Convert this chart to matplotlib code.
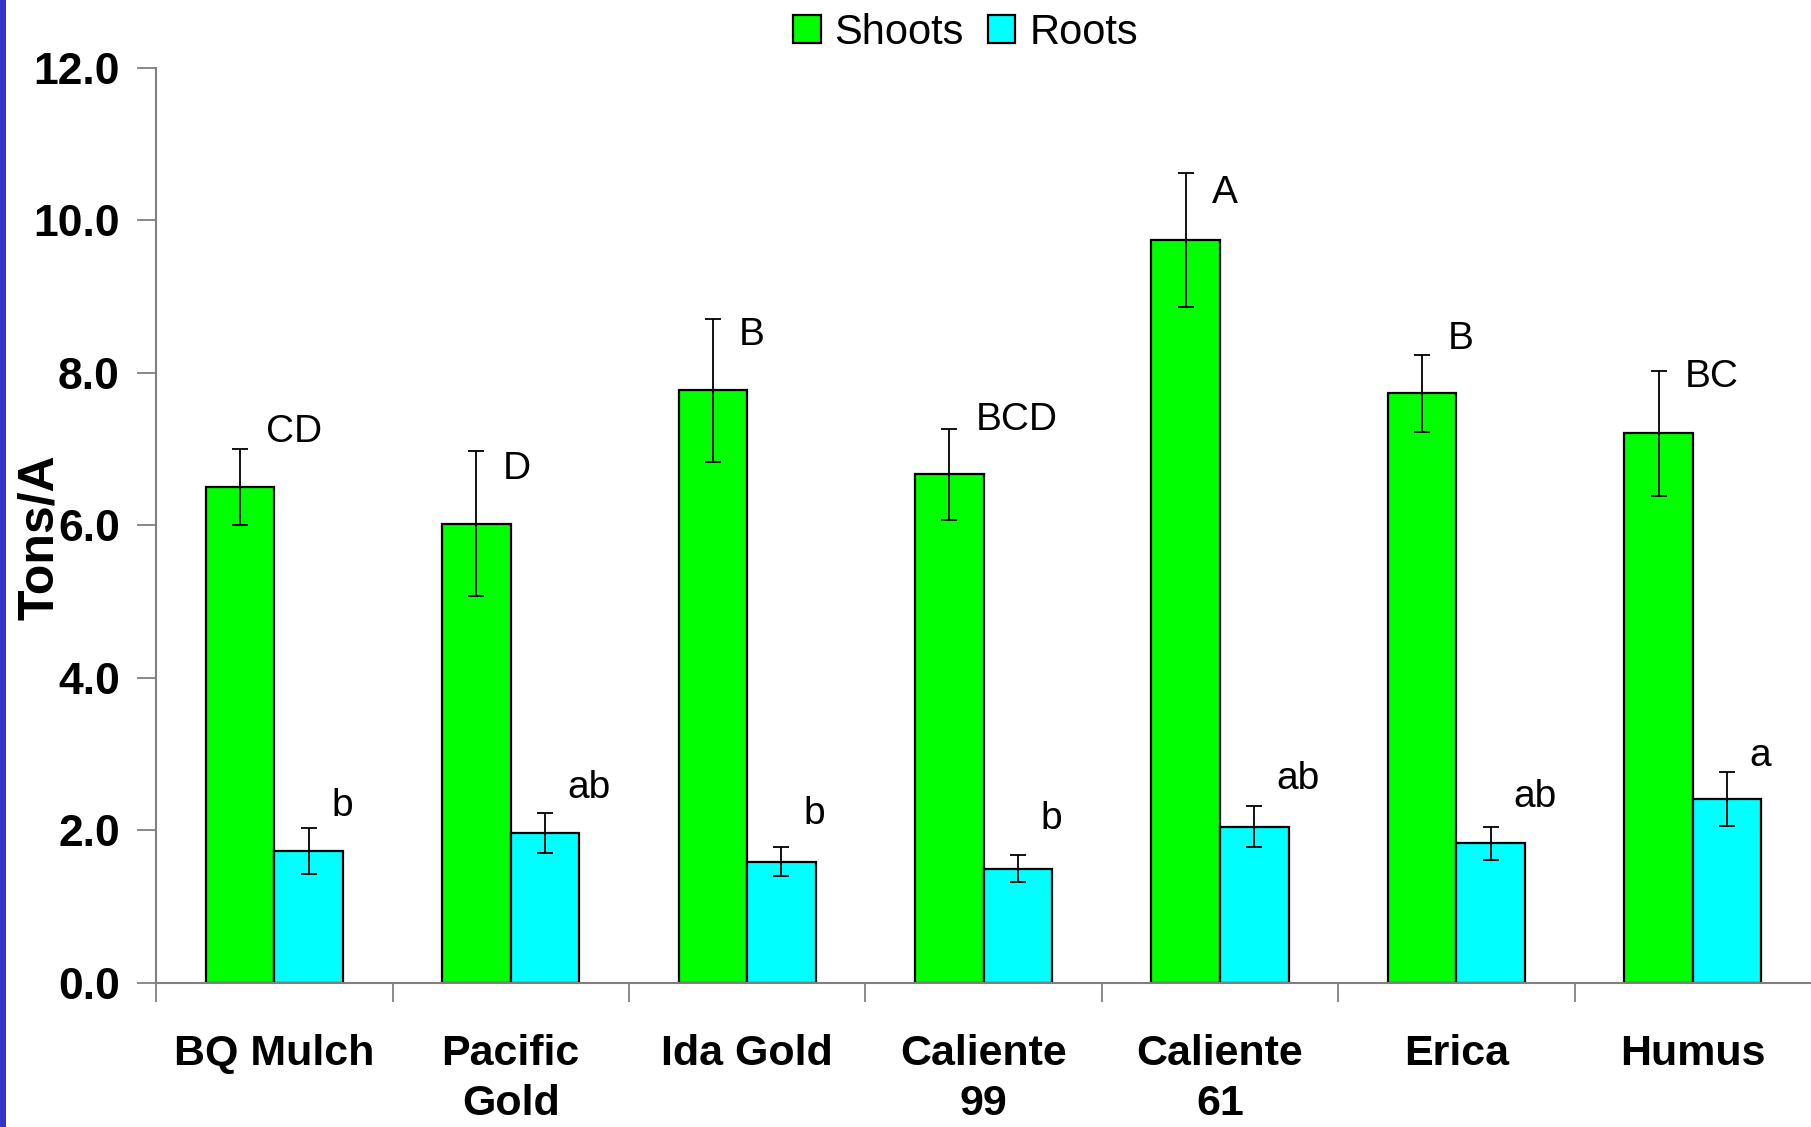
import matplotlib
matplotlib.use("Agg")
import matplotlib.pyplot as plt
from matplotlib.patches import Rectangle
import numpy as np

plt.rcParams['font.family'] = ['Liberation Sans', 'DejaVu Sans']

# data
categories = ['BQ Mulch', 'Pacific\nGold', 'Ida Gold', 'Caliente\n99', 'Caliente\n61', 'Erica', 'Humus']
shoots = [6.50, 6.02, 7.77, 6.67, 9.74, 7.73, 7.21]
shoots_err = [0.50, 0.95, 0.94, 0.60, 0.88, 0.50, 0.82]
roots = [1.73, 1.97, 1.59, 1.50, 2.05, 1.83, 2.41]
roots_err = [0.30, 0.26, 0.19, 0.18, 0.27, 0.22, 0.35]
shoots_letters = ['CD', 'D', 'B', 'BCD', 'A', 'B', 'BC']
roots_letters = ['b', 'ab', 'b', 'b', 'ab', 'ab', 'a']
# heights at which the letters sit
shoots_letter_y = [7.23, 6.74, 8.50, 7.38, 10.36, 8.44, 7.94]
roots_letter_y = [2.32, 2.56, 2.21, 2.15, 2.67, 2.44, 2.97]
yticks = [0, 2, 4, 6, 8, 10, 12]


def main():
    fig = plt.figure(figsize=(18.11, 11.27), dpi=100)
    ax = fig.add_axes([0.0862, 0.1278, 0.9138, 0.812])

    # blue strip on the left edge
    fig.patches.append(Rectangle((0, 0), 0.0035, 1, transform=fig.transFigure,
                                 facecolor='#3333CC', edgecolor='none'))

    x = np.arange(len(categories))
    w = 0.29
    err_kw = dict(ecolor='black', elinewidth=1.3, capsize=6, capthick=1.3)
    ax.bar(x - w / 2, shoots, w, yerr=shoots_err, color='#00FF00', edgecolor='black',
           linewidth=1.6, label='Shoots', error_kw=err_kw, zorder=2)
    ax.bar(x + w / 2, roots, w, yerr=roots_err, color='#00FFFF', edgecolor='black',
           linewidth=1.6, label='Roots', error_kw=err_kw, zorder=2)

    for i in range(len(categories)):
        ax.text(x[i] - w / 2 + 0.11, shoots_letter_y[i], shoots_letters[i],
                fontsize=28, ha='left', va='center')
        ax.text(x[i] + w / 2 + 0.095, roots_letter_y[i], roots_letters[i],
                fontsize=28, ha='left', va='center')

    ax.set_xlim(-0.5, 6.5)
    ax.set_ylim(0, 12)

    ax.set_yticks(yticks)
    ax.set_yticklabels([f'{v:.1f}' for v in yticks], fontsize=32, fontweight='bold')
    ax.tick_params(axis='y', direction='out', length=14, width=1.3, color='#808080', pad=12)

    # boundaries get ticks, centers get labels
    ax.set_xticks(np.arange(-0.5, 6.5, 1.0))
    ax.set_xticklabels([])
    ax.tick_params(axis='x', which='major', direction='out', length=14, width=1.3, color='#808080')
    ax.set_xticks(x, minor=True)
    ax.set_xticklabels(categories, minor=True, fontsize=31, fontweight='bold', linespacing=1.3)
    ax.tick_params(axis='x', which='minor', length=0, pad=37)

    for s in ['top', 'right']:
        ax.spines[s].set_visible(False)
    for s in ['left', 'bottom']:
        ax.spines[s].set_color('#808080')
        ax.spines[s].set_linewidth(1.5)

    fig.text(0.022, 0.523, 'Tons/A', rotation=90, fontsize=36, fontweight='bold',
             ha='center', va='center')

    fig.legend(loc='center', bbox_to_anchor=(0.533, 0.971), ncol=2, frameon=False,
               fontsize=30, handlelength=0.67, handleheight=0.67, handletextpad=0.33,
               columnspacing=0.57, borderaxespad=0)

    fig.savefig('out.png', dpi=100)


if __name__ == "__main__":
    main()
